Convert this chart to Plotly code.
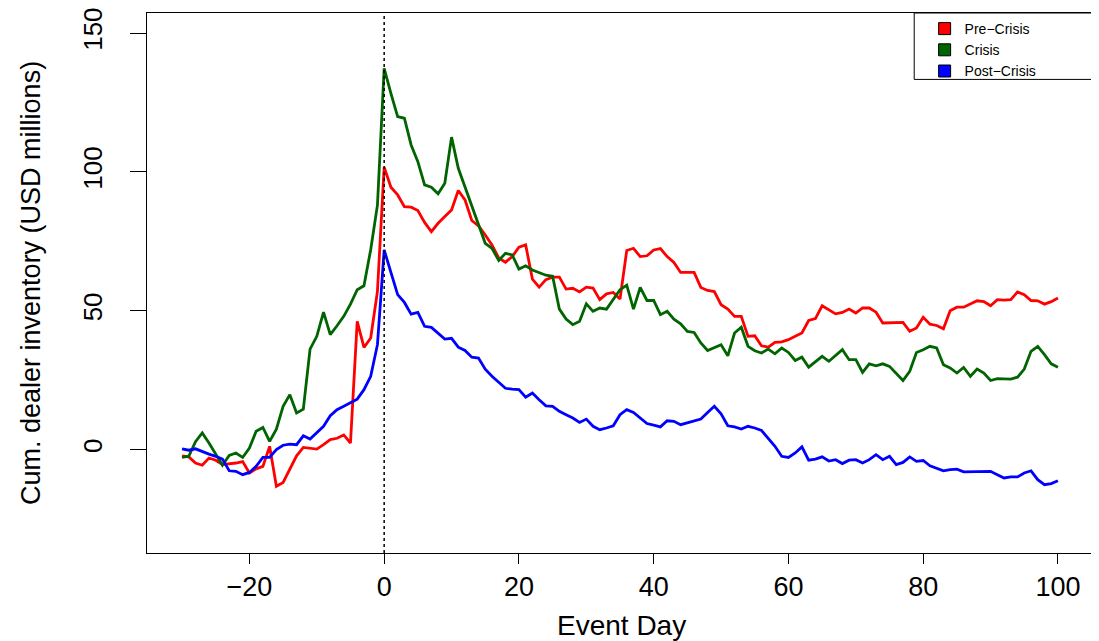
import plotly.graph_objects as go

# event days -30 .. 100
days = list(range(-30, 101))

pre_crisis = [
    -2.2, -2.6, -4.8, -5.6, -3.0, -3.8, -5.4, -5.2, -4.8, -4.3,
    -8.4, -6.9, -6.0, 1.2, -13.2, -11.8, -6.9, -2.2, 0.8, 0.5,
    0.2, 1.8, 3.6, 4.1, 5.3, 2.4, 46.2, 36.8, 40.2, 57.0,
    101.7, 94.5, 91.7, 87.5, 87.3, 86.1, 81.8, 78.5, 81.5, 83.9,
    86.3, 93.3, 89.9, 82.5, 80.6, 77.3, 73.7, 69.0, 67.5, 69.5,
    72.9, 73.7, 61.4, 58.5, 61.2, 62.1, 62.1, 57.8, 58.1, 56.8,
    58.5, 58.2, 54.0, 56.1, 56.6, 54.2, 71.7, 72.5, 69.5, 69.8,
    71.9, 72.4, 69.5, 67.4, 63.8, 63.8, 63.8, 58.4, 57.3, 56.9,
    52.2, 50.6, 48.0, 48.0, 40.8, 41.0, 37.4, 36.9, 38.6, 38.8,
    39.6, 40.8, 42.0, 46.5, 47.2, 51.8, 50.4, 48.9, 49.4, 50.6,
    49.2, 51.0, 51.0, 49.5, 45.6, 45.6, 45.8, 45.8, 42.6, 43.8,
    47.7, 45.2, 44.7, 43.5, 50.0, 51.3, 51.3, 52.4, 53.6, 53.3,
    51.8, 54.0, 53.8, 54.0, 56.8, 55.8, 53.7, 53.6, 52.4, 53.3,
    54.6,
]

crisis = [
    -2.8, -2.4, 2.9, 6.0, 2.4, -1.8, -5.6, -2.1, -1.2, -2.8,
    0.6, 6.6, 8.0, 3.0, 7.4, 15.6, 19.8, 13.2, 14.6, 36.2,
    40.8, 49.5, 41.4, 44.6, 48.0, 52.4, 57.6, 59.0, 72.0, 88.0,
    137.3, 128.3, 119.9, 119.3, 109.7, 103.7, 95.3, 94.5, 92.1, 95.9,
    112.5, 101.3, 94.7, 88.1, 81.5, 74.3, 72.5, 68.1, 70.7, 70.1,
    65.0, 66.2, 64.7, 63.8, 62.8, 62.4, 50.6, 47.0, 45.0, 46.2,
    52.5, 49.8, 51.0, 50.6, 54.2, 57.6, 59.2, 50.6, 58.4, 53.7,
    53.7, 48.6, 49.8, 47.0, 45.3, 42.6, 42.2, 38.4, 35.7, 36.9,
    37.8, 33.8, 42.0, 44.1, 37.2, 35.6, 34.8, 36.2, 34.5, 36.6,
    35.0, 32.1, 33.3, 29.7, 31.8, 33.6, 31.8, 33.8, 36.0, 32.4,
    32.4, 27.8, 30.9, 30.2, 30.9, 30.0, 27.6, 24.9, 28.2, 35.0,
    36.0, 37.2, 36.6, 30.6, 29.4, 27.6, 29.6, 26.4, 29.0, 27.6,
    24.9, 25.6, 25.5, 25.4, 26.1, 29.0, 35.4, 37.2, 34.2, 30.9,
    29.7,
]

post_crisis = [
    0.3, -0.2, 0.3, -0.7, -1.6, -2.4, -3.4, -7.6, -7.8, -9.0,
    -8.2, -6.0, -2.8, -2.8, 0.0, 1.6, 2.0, 1.8, 5.0, 3.8,
    6.0, 8.4, 12.2, 14.4, 15.6, 16.8, 18.2, 21.6, 26.4, 37.8,
    71.9, 63.8, 55.8, 53.0, 48.8, 49.4, 44.4, 44.0, 42.0, 39.8,
    40.1, 36.9, 35.7, 33.3, 33.0, 29.0, 26.4, 24.2, 22.1, 21.8,
    21.6, 18.9, 20.4, 18.0, 15.8, 15.6, 13.8, 12.6, 11.4, 9.8,
    11.0, 8.4, 7.2, 7.8, 8.6, 12.6, 14.4, 13.4, 11.4, 9.4,
    8.8, 8.2, 10.4, 10.2, 9.0, 9.6, 10.2, 11.0, 13.4, 15.6,
    12.9, 8.6, 8.2, 7.4, 8.4, 7.8, 6.9, 4.2, 1.2, -2.4,
    -2.8, -1.2, 1.0, -3.8, -3.4, -2.6, -4.1, -3.6, -5.0, -3.8,
    -3.6, -4.8, -3.6, -1.8, -3.6, -2.4, -5.4, -4.6, -2.6, -4.2,
    -3.9, -5.8, -6.8, -7.6, -7.2, -7.0, -8.0, -8.0, -7.9, -7.8,
    -7.8, -9.0, -10.2, -9.8, -9.8, -8.4, -7.6, -10.8, -12.6, -12.2,
    -11.2,
]

series_names = ["Pre\u2212Crisis", "Crisis", "Post\u2212Crisis"]
series_values = [pre_crisis, crisis, post_crisis]
colors = ["#ff0000", "#006400", "#0000ff"]

x_ticks = [-20, 0, 20, 40, 60, 80, 100]
y_ticks = [0, 50, 100, 150]

font = "Liberation Sans, Arial, sans-serif"

fig = go.Figure()

# the lines themselves
for name, vals, col in zip(series_names, series_values, colors):
    fig.add_trace(go.Scatter(x=days, y=vals, mode="lines", name=name,
                             line=dict(color=col, width=2.8),
                             showlegend=False))

# filled boxes for the legend, like R's legend(fill=...)
for name, col in zip(series_names, colors):
    fig.add_trace(go.Scatter(x=[None], y=[None], mode="markers", name=name,
                             marker=dict(symbol="square", size=12, color=col,
                                         line=dict(color="black", width=1))))

# event day marker
fig.add_shape(type="line", x0=0, x1=0, y0=0, y1=1, xref="x", yref="paper",
              line=dict(color="black", width=1.5, dash="dot"))

# legend frame (R style box that reaches the plot's right edge)
fig.add_shape(type="rect", xref="paper", yref="paper",
              x0=0.811, x1=1.0, y0=0.877, y1=1.0,
              line=dict(color="black", width=1), fillcolor="white", layer="above")

# axis titles
fig.add_annotation(text="Event Day", xref="paper", yref="paper",
                   x=0.502, y=0, yanchor="middle", yshift=-72,
                   showarrow=False, font=dict(size=28))
fig.add_annotation(text="Cum. dealer inventory (USD millions)", xref="paper", yref="paper",
                   x=0, y=0.5, xanchor="center", xshift=-116, textangle=-90,
                   showarrow=False, font=dict(size=27))

# the page body has an 8px margin, so the figure is 8px smaller and margins shrink
fig.update_layout(
    width=1091, height=633,
    paper_bgcolor="white", plot_bgcolor="white",
    margin=dict(l=139, r=6, t=5, b=88),
    font=dict(family=font, color="black"),
    legend=dict(x=0.822, y=1.0, xanchor="left", yanchor="top",
                borderwidth=0, bgcolor="rgba(0,0,0,0)",
                font=dict(size=14), tracegroupgap=0),
    xaxis=dict(range=[-35.2, 105.2], tickvals=x_ticks, automargin=False,
               showgrid=False, zeroline=False,
               showline=True, linecolor="black", linewidth=1, mirror=True,
               ticks="outside", ticklen=10, tickcolor="black",
               tickfont=dict(size=27)),
    yaxis=dict(range=[-37.2, 157.2], tickvals=y_ticks, automargin=False,
               showgrid=False, zeroline=False,
               showline=True, linecolor="black", linewidth=1, mirror=True,
               ticks="outside", ticklen=16, tickcolor="black",
               tickangle=-90, tickfont=dict(size=26), ticklabelstandoff=18,
               ticklabeloverflow="allow"),
)

fig.write_html("out.html")
